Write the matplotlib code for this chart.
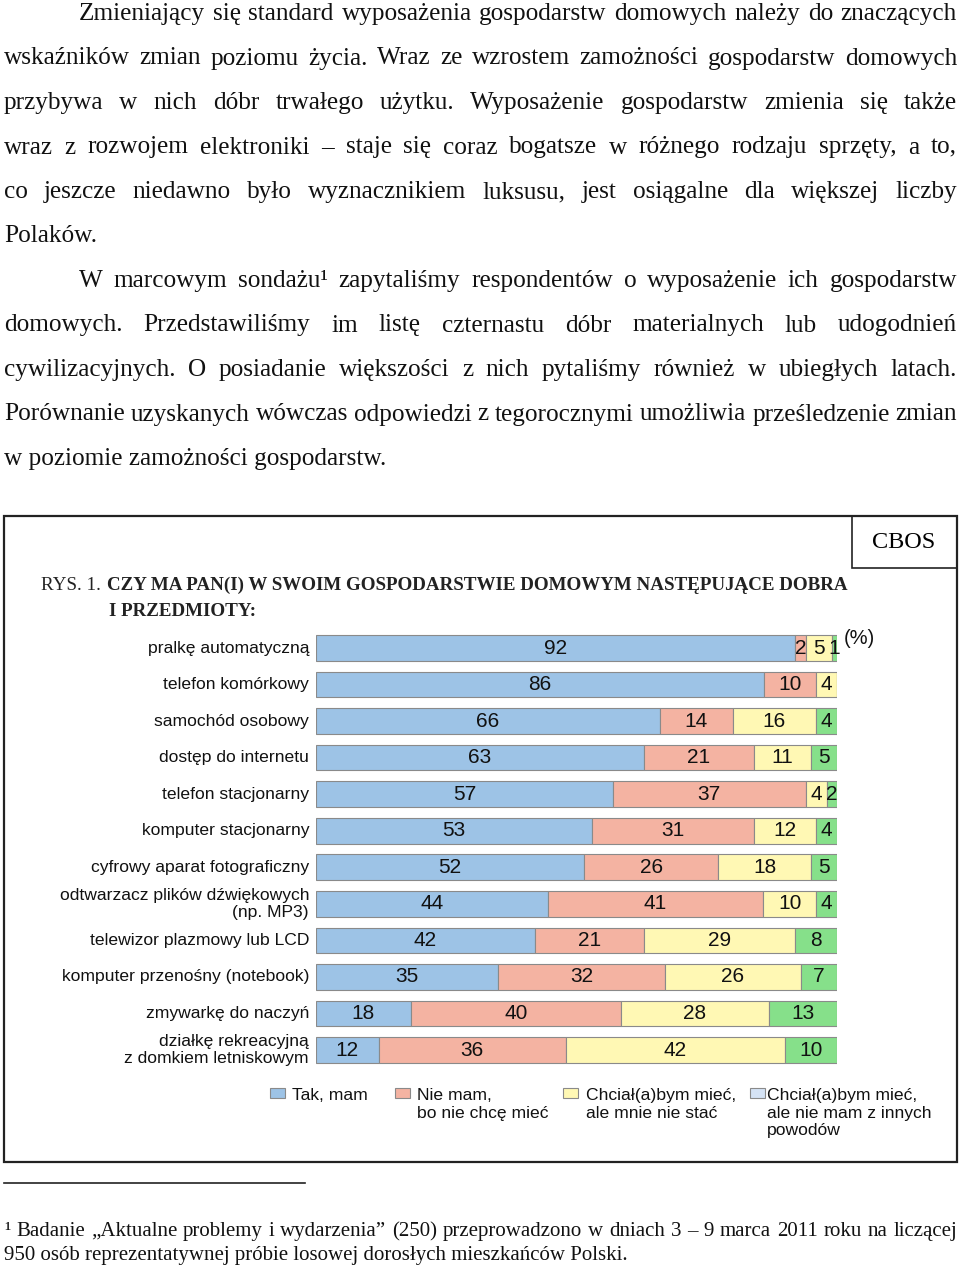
import numpy as np
import matplotlib
matplotlib.use("Agg")
import matplotlib.pyplot as plt
from matplotlib.patches import Rectangle

# data
items = ["pralkę automatyczną", "telefon komórkowy", "samochód osobowy",
         "dostęp do internetu", "telefon stacjonarny", "komputer stacjonarny",
         "cyfrowy aparat fotograficzny", "odtwarzacz plików dźwiękowych\n(np. MP3)",
         "telewizor plazmowy lub LCD", "komputer przenośny (notebook)",
         "zmywarkę do naczyń", "działkę rekreacyjną\nz domkiem letniskowym"]
tak_mam = [92, 86, 66, 63, 57, 53, 52, 44, 42, 35, 18, 12]
nie_chce = [2, 10, 14, 21, 37, 31, 26, 41, 21, 32, 40, 36]
nie_stac = [5, 4, 16, 11, 4, 12, 18, 10, 29, 26, 28, 42]
inne = [1, 0, 4, 5, 2, 4, 5, 4, 8, 7, 13, 10]
legend_labels = ["Tak, mam", "Nie mam,\nbo nie chcę mieć",
                 "Chciał(a)bym mieć,\nale mnie nie stać",
                 "Chciał(a)bym mieć,\nale nie mam z innych\npowodów"]

paragraph = [
    ("Zmieniający się standard wyposażenia gospodarstw domowych należy do znaczących", True, 79),
    ("wskaźników zmian poziomu życia. Wraz ze wzrostem zamożności gospodarstw domowych", True, 4),
    ("przybywa w nich dóbr trwałego użytku. Wyposażenie gospodarstw zmienia się także", True, 4),
    ("wraz z rozwojem elektroniki – staje się coraz bogatsze w różnego rodzaju sprzęty, a to,", True, 4),
    ("co jeszcze niedawno było wyznacznikiem luksusu, jest osiągalne dla większej liczby", True, 4),
    ("Polaków.", False, 4),
    ("W marcowym sondażu¹ zapytaliśmy respondentów o wyposażenie ich gospodarstw", True, 79),
    ("domowych. Przedstawiliśmy im listę czternastu dóbr materialnych lub udogodnień", True, 4),
    ("cywilizacyjnych. O posiadanie większości z nich pytaliśmy również w ubiegłych latach.", True, 4),
    ("Porównanie uzyskanych wówczas odpowiedzi z tegorocznymi umożliwia prześledzenie zmian", True, 4),
    ("w poziomie zamożności gospodarstw.", False, 4),
]
footnote = [
    ("¹ Badanie „Aktualne problemy i wydarzenia” (250) przeprowadzono w dniach 3 – 9 marca 2011 roku na liczącej", True, 4),
    ("950 osób reprezentatywnej próbie losowej dorosłych mieszkańców Polski.", False, 4),
]

colors = ["#9DC3E6", "#F4B3A2", "#FFF8B4", "#86E08A"]
legend_colors = ["#9DC3E6", "#F4B3A2", "#FFF8B4", "#D5E3F5"]
serif = "Liberation Serif"
sans = "Liberation Sans"

fig = plt.figure(figsize=(9.6, 12.67), dpi=100)
bg = fig.add_axes([0, 0, 1, 1])
bg.set_xlim(0, 960)
bg.set_ylim(1267, 0)
bg.axis("off")
renderer = fig.canvas.get_renderer()


def text_width(s, size, **kw):
    t = bg.text(0, 0, s, fontsize=size, **kw)
    w = t.get_window_extent(renderer).width
    t.remove()
    return w


def fit(s, target, **kw):
    return 20 * target / text_width(s, 20, **kw)


def write_line(s, y, x0, x1, size, justify, **kw):
    words = s.split(" ")
    if not justify:
        bg.text(x0, y, s, fontsize=size, va="baseline", **kw)
        return
    widths = [text_width(w, size, **kw) for w in words]
    gap = (x1 - x0 - sum(widths)) / (len(words) - 1)
    x = x0
    for w, wd in zip(words, widths):
        bg.text(x, y, w, fontsize=size, va="baseline", **kw)
        x += wd + gap


# paragraph text
psize = fit("w poziomie zamożności gospodarstw.", 382, family=serif)
for i, (line, just, x0) in enumerate(paragraph):
    write_line(line, 20 + i * 44.5, x0, 957, psize, just, family=serif, color="#111111")

# chart frame
bg.add_patch(Rectangle((4, 516), 953, 646, fill=False, lw=1.6, ec="#222222"))
bg.add_patch(Rectangle((852, 516), 105, 52, fill=False, lw=1.2, ec="#222222"))
bg.text(904, 542, "CBOS", fontsize=17.5, family=serif, ha="center", va="center")

tsize = fit("CZY MA PAN(I) W SWOIM GOSPODARSTWIE DOMOWYM NASTĘPUJĄCE DOBRA", 742,
            family=serif, weight="bold")
bg.text(41, 590, "RYS. 1.", fontsize=tsize, family=serif, va="baseline", color="#222222")
bg.text(107, 590, "CZY MA PAN(I) W SWOIM GOSPODARSTWIE DOMOWYM NASTĘPUJĄCE DOBRA",
        fontsize=tsize, family=serif, weight="bold", va="baseline", color="#222222")
bg.text(109, 616, "I PRZEDMIOTY:", fontsize=tsize, family=serif, weight="bold",
        va="baseline", color="#222222")

# bars (100% stacked, as in the source chart)
n = len(items)
y0, y1 = 648, 1050
step = (y1 - y0) / (n - 1)
ax = fig.add_axes([316 / 960, 1 - (y1 + step / 2) / 1267, (837 - 316) / 960,
                   (y1 - y0 + step) / 1267])
ax.set_xlim(0, 100)
ax.set_ylim(n - 0.5, -0.5)
ax.axis("off")
ypos = np.arange(n)
series = [np.array(s, dtype=float) for s in (tak_mam, nie_chce, nie_stac, inne)]
totals = sum(series)
left = np.zeros(n)
for vals, c in zip(series, colors):
    widths = vals / totals * 100
    ax.barh(ypos, widths, left=left, height=0.7, color=c, edgecolor="#8a8a8a", lw=0.8)
    for yy, l, w, v in zip(ypos, left, widths, vals):
        if v > 0:
            ax.text(l + w / 2, yy, f"{v:.0f}", ha="center", va="center",
                    fontsize=15, family=sans, color="#111111")
    left += widths

for i, lab in enumerate(items):
    bg.text(309, y0 + i * step, lab, ha="right", va="center", multialignment="right",
            fontsize=12.6, family=sans, linespacing=1.2, color="#111111")
bg.text(844, 639, "(%)", fontsize=14.5, family=sans, va="center", color="#111111")

# legend
leg_sq = [270, 395, 563, 750]
leg_tx = [292, 417, 586, 767]
for sx, tx, lab, c in zip(leg_sq, leg_tx, legend_labels, legend_colors):
    bg.add_patch(Rectangle((sx, 1088), 15, 10, fc=c, ec="#8a8a8a", lw=0.8))
    bg.text(tx, 1088, lab, fontsize=12.6, family=sans, va="top", linespacing=1.22,
            color="#111111")

# footnote
bg.plot([4, 305], [1183, 1183], color="#222222", lw=1.2)
fsize = fit(footnote[1][0], 623, family=serif)
for i, (line, just, x0) in enumerate(footnote):
    write_line(line, 1236 + i * 24, x0, 957, fsize, just, family=serif, color="#111111")

fig.savefig("out.png", dpi=100)
